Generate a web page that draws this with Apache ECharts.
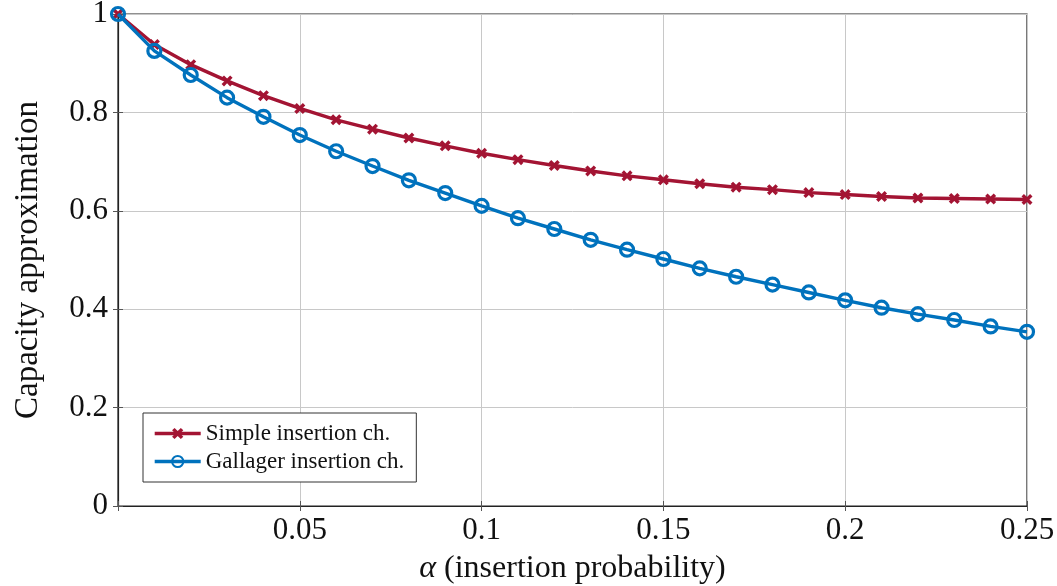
<!DOCTYPE html>
<html>
<head>
<meta charset="utf-8">
<script src="https://cdn.jsdelivr.net/npm/echarts@6/dist/echarts.min.js"></script>
<style>
html,body{margin:0;padding:0;background:#fff;}
#c{width:1057px;height:586px;}
</style>
</head>
<body>
<div id="c"></div>
<script>
const alphas = [0,0.01,0.02,0.03,0.04,0.05,0.06,0.07,0.08,0.09,0.10,0.11,0.12,0.13,0.14,0.15,0.16,0.17,0.18,0.19,0.20,0.21,0.22,0.23,0.24,0.25];
const simpleVals = [1.0,0.938,0.897,0.864,0.834,0.808,0.785,0.766,0.748,0.732,0.717,0.704,0.692,0.681,0.671,0.663,0.655,0.648,0.643,0.637,0.633,0.629,0.626,0.625,0.624,0.623];
const gallagerVals = [1.0,0.925,0.876,0.830,0.791,0.754,0.721,0.691,0.662,0.636,0.610,0.585,0.563,0.541,0.521,0.502,0.483,0.466,0.450,0.434,0.418,0.403,0.390,0.378,0.365,0.354];
const xTicks = [0.05,0.1,0.15,0.2,0.25];
const yTicks = [0,0.2,0.4,0.6,0.8,1];
const seriesNames = ['Simple insertion ch.','Gallager insertion ch.'];

const RED = '#A31433';
const BLUE = '#0072BD';
const FONT = '"Liberation Serif","Times New Roman",serif';
const xMark = 'path://M0,2.2 L2.2,0 L5,2.8 L7.8,0 L10,2.2 L7.2,5 L10,7.8 L7.8,10 L5,7.2 L2.2,10 L0,7.8 L2.8,5 Z';

const chart = echarts.init(document.getElementById('c'), null, {renderer:'canvas'});
const gridLine = {show:true, lineStyle:{color:'#c8c8c8', width:1}};
const tickStyle = {show:true, inside:true, length:5, lineStyle:{color:'#555', width:1}};
chart.setOption({
  backgroundColor:'#fff',
  animation:false,
  grid:{left:118, right:30, top:14, bottom:80, show:true, borderColor:'#222', borderWidth:1.2, backgroundColor:'transparent', containLabel:false, outerBoundsMode:'none'},
  xAxis:[{
    type:'value', min:0, max:0.25, interval:0.05,
    axisLine:{show:true, lineStyle:{color:'#222', width:1.2}},
    axisTick:tickStyle,
    splitLine:gridLine,
    axisLabel:{fontFamily:FONT, fontSize:31, color:'#111', margin:9,
      formatter:function(v){ return xTicks.some(t=>Math.abs(t-v)<1e-9) ? String(+v.toFixed(2)) : ''; }},
    name:'{a|α} (insertion probability)', nameLocation:'middle', nameGap:47,
    nameTextStyle:{fontFamily:FONT, fontSize:32, color:'#111', rich:{a:{fontFamily:FONT, fontStyle:'italic', fontSize:32, color:'#111'}}}
  },{
    type:'value', min:0, max:0.25, interval:0.05, position:'top',
    axisLine:{show:false}, axisTick:tickStyle, axisLabel:{show:false}, splitLine:{show:false}
  }],
  yAxis:[{
    type:'value', min:0, max:1, interval:0.2,
    axisLine:{show:true, lineStyle:{color:'#222', width:1.2}},
    axisTick:tickStyle,
    splitLine:gridLine,
    axisLabel:{fontFamily:FONT, fontSize:31, color:'#111', margin:10,
      formatter:function(v){ return yTicks.some(t=>Math.abs(t-v)<1e-9) ? String(+v.toFixed(1)) : ''; }},
    name:'Capacity approximation', nameLocation:'middle', nameGap:73,
    nameTextStyle:{fontFamily:FONT, fontSize:33, color:'#111'}
  },{
    type:'value', min:0, max:1, interval:0.2, position:'right',
    axisLine:{show:false}, axisTick:tickStyle, axisLabel:{show:false}, splitLine:{show:false}
  }],
  legend:{
    left:143, top:413, orient:'vertical',
    data:seriesNames,
    itemWidth:46, itemHeight:14, itemGap:5,
    padding:[9,12,9,10],
    borderColor:'#333', borderWidth:1, backgroundColor:'#fff',
    lineStyle:{width:3.4},
    textStyle:{fontFamily:FONT, fontSize:23, color:'#111'}
  },
  series:[{
    name:seriesNames[0], type:'line',
    data:alphas.map((a,i)=>[a,simpleVals[i]]),
    lineStyle:{color:RED, width:3.4},
    itemStyle:{color:RED},
    symbol:xMark, symbolSize:11, showAllSymbol:true, z:3
  },{
    name:seriesNames[1], type:'line',
    data:alphas.map((a,i)=>[a,gallagerVals[i]]),
    lineStyle:{color:BLUE, width:3.4},
    itemStyle:{color:'rgba(255,255,255,0)', borderColor:BLUE, borderWidth:3.2},
    symbol:'circle', symbolSize:13, showAllSymbol:true, z:4
  }]
});
</script>
</body>
</html>
